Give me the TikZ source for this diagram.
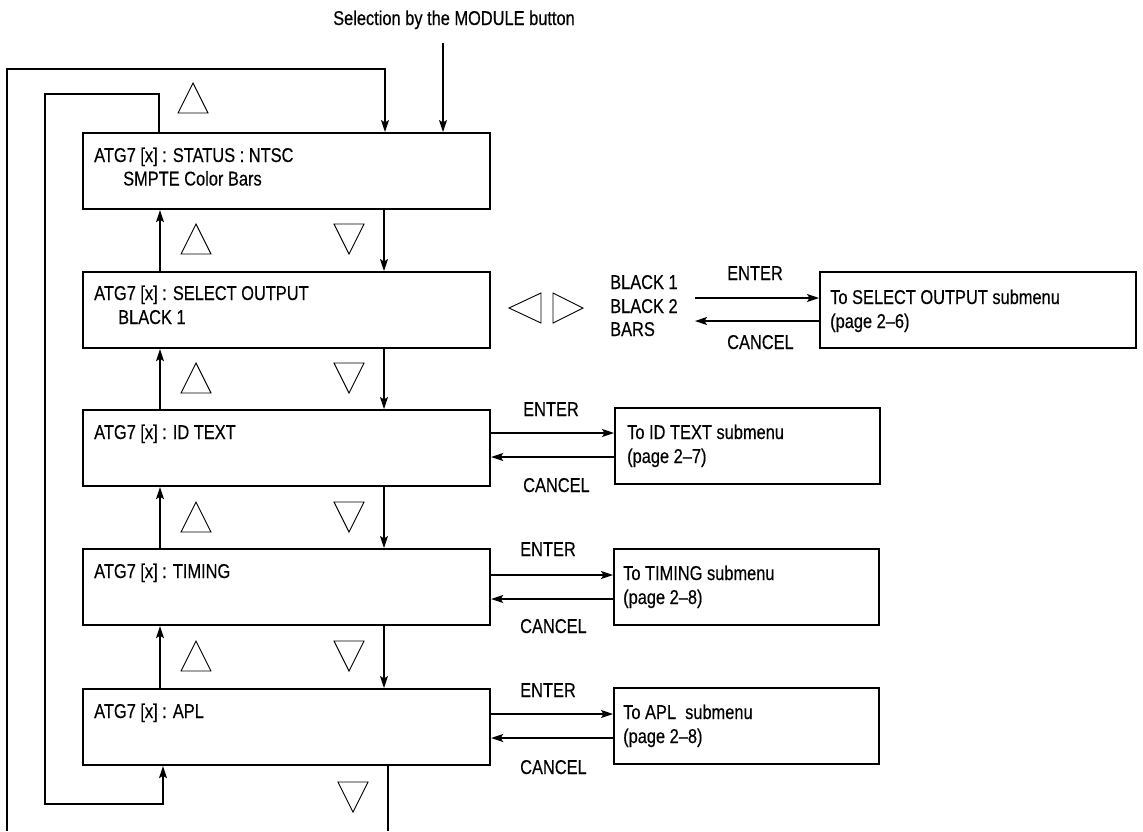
\documentclass[tikz,border=0pt]{standalone}
\usepackage{fontspec}
\setmainfont{Liberation Sans}[FakeStretch=0.82,FakeBold=0.35]
\usetikzlibrary{arrows.meta,calc}
\newcommand{\TriUp}[2]{\draw[tri] (#1,#2+30) -- ++(15,-30) -- ++(15,30) -- cycle;}
\newcommand{\TriDn}[2]{\draw[tri] (#1,#2) -- ++(30,0) -- ++(-15,30) -- cycle;}
\begin{document}
\begin{tikzpicture}[x=1pt,y=-1pt,
  mbox/.style={draw, line width=2.2pt, minimum width=407pt, minimum height=76pt, anchor=north west, inner sep=0pt},
  sbox/.style={draw, line width=2.2pt, minimum height=76pt, anchor=north west, inner sep=0pt},
  txt/.style={inner sep=0pt, anchor=base west, font=\fontsize{20pt}{23.5pt}\selectfont},
  conn/.style={line width=1.2pt},
  arr/.style={conn, -{Stealth[length=12pt,width=8pt,inset=2.5pt]}},
  tri/.style={line width=0.9pt, line join=miter}]
\useasboundingbox (0,0) rectangle (1143,831);

% main boxes
\node[mbox] (m1) at (82,132) {};
\node[mbox] (m2) at (82,271) {};
\node[mbox] (m3) at (82,409) {};
\node[mbox] (m4) at (82,548) {};
\node[mbox] (m5) at (82,688) {};

\node[txt] (t1a) at (94,162) {ATG7 [x] : STATUS : NTSC};
\node[txt] (t1b) at (123,185.5) {SMPTE Color Bars};
\node[txt] (t2a) at (94,300) {ATG7 [x] : SELECT OUTPUT};
\node[txt] (t2b) at (118,324) {BLACK 1};
\node[txt] (t3a) at (94,439) {ATG7 [x] : ID TEXT};
\node[txt] (t4a) at (94,578) {ATG7 [x] : TIMING};
\node[txt] (t5a) at (94,718) {ATG7 [x] : APL};

% submenu boxes
\node[sbox, minimum width=316pt] (s2) at (819,271) {};
\node[sbox, minimum width=265pt] (s3) at (614,407) {};
\node[sbox, minimum width=265pt] (s4) at (613,548) {};
\node[sbox, minimum width=265pt] (s5) at (613,687) {};

\node[txt] (s2a) at (830,304) {To SELECT OUTPUT submenu};
\node[txt] (s2b) at (830,328) {(page 2--6)};
\node[txt] (s3a) at (627,439) {To ID TEXT submenu};
\node[txt] (s3b) at (627,463) {(page 2--7)};
\node[txt] (s4a) at (623,580) {To TIMING submenu};
\node[txt] (s4b) at (623,604) {(page 2--8)};
\node[txt] (s5a) at (623,719) {To APL\ \ submenu};
\node[txt] (s5b) at (623,743) {(page 2--8)};

% output choices
\node[txt] (o1) at (610,289) {BLACK 1};
\node[txt] (o2) at (610,313) {BLACK 2};
\node[txt] (o3) at (610,336) {BARS};

% top label
\node[txt, anchor=base] (mod) at (454,25) {Selection by the MODULE button};
\coordinate (mt) at (443,43);
\draw[arr] (mt) -- (mt |- m1.north);

% ENTER / CANCEL row 2
\coordinate (e2) at (695,298);
\coordinate (c2) at (695,321);
\draw[arr] (e2) -- (e2 -| s2.west);
\draw[arr] (c2 -| s2.west) -- (c2);
\node[txt] (en2) at (727,280) {ENTER};
\node[txt] (ca2) at (727,349) {CANCEL};

% rows 3-5
\coordinate (y3e) at (0,433); \coordinate (y3c) at (0,457);
\coordinate (y4e) at (0,575); \coordinate (y4c) at (0,599);
\coordinate (y5e) at (0,714); \coordinate (y5c) at (0,738);
\draw[arr] (y3e -| m3.east) -- (y3e -| s3.west);
\draw[arr] (y3c -| s3.west) -- (y3c -| m3.east);
\draw[arr] (y4e -| m4.east) -- (y4e -| s4.west);
\draw[arr] (y4c -| s4.west) -- (y4c -| m4.east);
\draw[arr] (y5e -| m5.east) -- (y5e -| s5.west);
\draw[arr] (y5c -| s5.west) -- (y5c -| m5.east);
\node[txt] (en3) at (523,416) {ENTER};
\node[txt] (ca3) at (523,492) {CANCEL};
\node[txt] (en4) at (520,556) {ENTER};
\node[txt] (ca4) at (520,633) {CANCEL};
\node[txt] (en5) at (520,697) {ENTER};
\node[txt] (ca5) at (520,774) {CANCEL};

% vertical connectors between main boxes
\coordinate (xu) at (160,0);
\coordinate (xd) at (384,0);
\foreach \a/\b in {m1/m2,m2/m3,m3/m4,m4/m5}{
  \draw[arr] (xu |- \b.north) -- (xu |- \a.south);
  \draw[arr] (xd |- \a.south) -- (xd |- \b.north);
}

% outer loop
\coordinate (ob) at (7,831);
\coordinate (ot) at (7,69);
\coordinate (oe) at (385,69);
\draw[arr] (ob) -- (ot) -- (oe) -- (oe |- m1.north);

% inner loop
\coordinate (ia) at (159,94);
\coordinate (ib) at (45,94);
\coordinate (ic) at (45,804);
\coordinate (id) at (163,804);
\draw[arr] (ia |- m1.north) -- (ia) -- (ib) -- (ic) -- (id) -- (id |- m5.south);

% bottom exit
\coordinate (bb) at (388,831);
\draw[conn] (bb |- m5.south) -- (bb);

% triangles
\TriUp{178}{83}
\TriUp{181}{224}  \TriDn{334}{224}
\TriUp{181}{363}  \TriDn{334}{363}
\TriUp{181}{502}  \TriDn{334}{502}
\TriUp{181}{641}  \TriDn{334}{641}
\TriDn{338}{782}
\draw[tri] (541,293) -- (541,323) -- (509,308) -- cycle;
\draw[tri] (553,293) -- (553,323) -- (583,308) -- cycle;
\end{tikzpicture}
\end{document}
